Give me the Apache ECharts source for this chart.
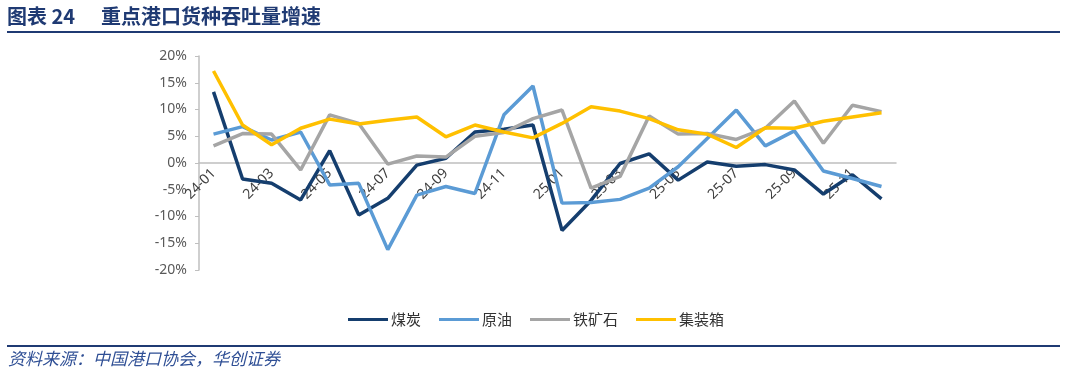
<!DOCTYPE html>
<html>
<head>
<meta charset="utf-8">
<script src="https://cdn.jsdelivr.net/npm/echarts@6/dist/echarts.min.js"></script>
<style>
  html, body { margin: 0; padding: 0; background: #fff; }
  #chart { width: 1066px; height: 377px; }
</style>
</head>
<body>
<div id="chart"></div>
<script>
// 月份
const months = [
  '24-01', '24-02', '24-03', '24-04', '24-05', '24-06', '24-07', '24-08', '24-09', '24-10', '24-11', '24-12',
  '25-01', '25-02', '25-03', '25-04', '25-05', '25-06', '25-07', '25-08', '25-09', '25-10', '25-11', '25-12'
];
// 各货种同比增速 (%)
const coal = [13.3, -3.0, -3.8, -6.9, 2.3, -9.7, -6.6, -0.4, 0.9, 5.8, 6.3, 7.1,
  -12.6, -7.0, -0.1, 1.7, -3.2, 0.2, -0.6, -0.3, -1.3, -5.8, -2.2, -6.7];
const crudeOil = [5.4, 6.8, 4.3, 5.8, -4.1, -3.8, -16.2, -6.0, -4.4, -5.7, 9.0, 14.4,
  -7.5, -7.4, -6.8, -4.7, -0.7, 4.6, 9.9, 3.2, 6.0, -1.5, -2.9, -4.4];
const ironOre = [3.2, 5.5, 5.4, -1.3, 9.0, 7.4, -0.2, 1.3, 1.1, 5.0, 5.7, 8.3,
  9.9, -4.7, -2.5, 8.8, 5.4, 5.5, 4.4, 6.5, 11.6, 3.7, 10.8, 9.6];
const container = [17.2, 7.1, 3.4, 6.5, 8.2, 7.3, 8.0, 8.6, 4.9, 7.1, 5.8, 4.7,
  7.4, 10.5, 9.7, 8.3, 6.2, 5.4, 2.9, 6.6, 6.5, 7.8, 8.6, 9.4];

const seriesNames = ['煤炭', '原油', '铁矿石', '集装箱'];
const seriesColors = ['#153e6e', '#5b9bd5', '#a5a5a5', '#ffc000'];
const seriesData = [coal, crudeOil, ironOre, container];

const headColor = '#1f3a73';

const chart = echarts.init(document.getElementById('chart'));

const option = {
  animation: false,
  backgroundColor: '#fff',
  textStyle: { fontFamily: '"Noto Sans", "Noto Sans CJK SC", sans-serif' },
  grid: { left: 199, right: 170, top: 56, bottom: 107, containLabel: false },
  legend: {
    left: 343,
    top: 307,
    icon: 'rect',
    itemWidth: 40,
    itemHeight: 3,
    itemGap: 18,
    textStyle: {
      color: '#333',
      fontSize: 15,
      padding: [0, 0, 0, -2],
      fontFamily: '"Noto Sans CJK SC", sans-serif'
    },
    data: seriesNames
  },
  xAxis: {
    type: 'category',
    data: months,
    boundaryGap: true,
    // 轴放在 0% 处（网格高度 214，0 在正中）
    offset: -107,
    axisLine: { onZero: false, lineStyle: { color: '#bfbfbf', width: 1.5 } },
    axisTick: { show: false },
    axisLabel: {
      interval: 1,
      rotate: 45,
      margin: 8,
      color: '#404040',
      fontSize: 14
    },
    splitLine: { show: false }
  },
  yAxis: {
    type: 'value',
    min: -20,
    max: 20,
    interval: 5,
    axisLine: { show: true, lineStyle: { color: '#bfbfbf', width: 1.5 } },
    axisTick: { show: true, length: 4, lineStyle: { color: '#bfbfbf' } },
    axisLabel: {
      formatter: '{value}%',
      color: '#595959',
      fontSize: 14,
      margin: 12
    },
    splitLine: { show: false }
  },
  series: seriesNames.map((name, i) => ({
    name: name,
    type: 'line',
    data: seriesData[i],
    showSymbol: false,
    symbol: 'none',
    lineStyle: { color: seriesColors[i], width: 3.5 },
    itemStyle: { color: seriesColors[i] }
  })),
  graphic: [
    {
      type: 'text', left: 7, top: 6,
      style: { text: '图表 24', fill: headColor, font: 'bold 20px "Noto Sans CJK SC", sans-serif' }
    },
    {
      type: 'text', left: 101, top: 6,
      style: { text: '重点港口货种吞吐量增速', fill: headColor, font: 'bold 20px "Noto Sans CJK SC", sans-serif' }
    },
    {
      type: 'rect', shape: { x: 7, y: 31, width: 1053, height: 2 },
      style: { fill: headColor }
    },
    {
      type: 'rect', shape: { x: 7, y: 345, width: 1053, height: 2 },
      style: { fill: headColor }
    },
    {
      type: 'text', left: 8, top: 350,
      style: { text: '资料来源：中国港口协会，华创证券', fill: '#2f4f95', font: 'italic 17px "Noto Sans CJK SC", sans-serif' }
    }
  ]
};

chart.setOption(option);
</script>
</body>
</html>
